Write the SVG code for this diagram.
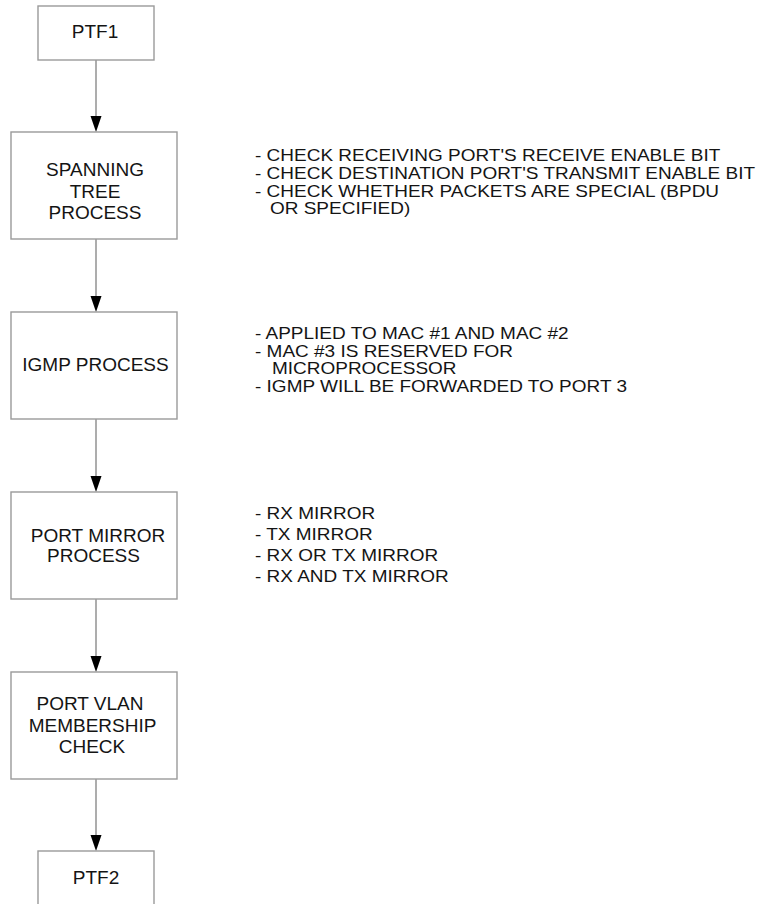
<svg xmlns="http://www.w3.org/2000/svg" width="766" height="904" viewBox="0 0 766 904">
<style>
.box{fill:#fff;stroke:#9a9a9a;stroke-width:1.4}
.t{font-family:"Liberation Sans",Arial,sans-serif;font-size:19px;fill:#141414}
.n{font-family:"Liberation Sans",Arial,sans-serif;font-size:16px;fill:#141414}
.c{text-anchor:middle}
.ln{stroke:#8a8a8a;stroke-width:1.4;fill:none}
.ah{fill:#000}
</style>
<defs>
<polygon id="arr" class="ah" points="-5.5,-16 5.5,-16 0,0"/>
</defs>
<rect width="766" height="904" fill="#fff"/>
<g id="connectors">
<line class="ln" x1="96" y1="60" x2="96" y2="120"/><use href="#arr" x="96" y="132"/>
<line class="ln" x1="96" y1="239" x2="96" y2="300"/><use href="#arr" x="96" y="312"/>
<line class="ln" x1="96" y1="419" x2="96" y2="480"/><use href="#arr" x="96" y="492"/>
<line class="ln" x1="96" y1="599" x2="96" y2="660"/><use href="#arr" x="96" y="672"/>
<line class="ln" x1="96" y1="779" x2="96" y2="839"/><use href="#arr" x="96" y="851"/>
</g>
<g id="ptf1">
<rect class="box" x="38" y="6" width="116" height="54"/>
<text class="t c" x="95" y="38">PTF1</text>
</g>
<g id="spanning">
<rect class="box" x="11" y="132" width="166" height="107"/>
<text class="t c" x="95" y="176">SPANNING</text>
<text class="t c" x="95" y="198">TREE</text>
<text class="t c" x="95" y="219">PROCESS</text>
</g>
<g id="igmp">
<rect class="box" x="11" y="312" width="166" height="107"/>
<text class="t c" x="95.5" y="371">IGMP PROCESS</text>
</g>
<g id="mirror">
<rect class="box" x="11" y="492" width="166" height="107"/>
<text class="t c" x="98" y="542">PORT MIRROR</text>
<text class="t c" x="93.5" y="562">PROCESS</text>
</g>
<g id="vlan">
<rect class="box" x="11" y="672" width="166" height="107"/>
<text class="t c" x="90" y="710">PORT VLAN</text>
<text class="t c" x="92.5" y="732">MEMBERSHIP</text>
<text class="t c" x="92" y="753">CHECK</text>
</g>
<g id="ptf2">
<rect class="box" x="38" y="851" width="116" height="54"/>
<text class="t c" x="96" y="884">PTF2</text>
</g>
<g id="notes-spanning" transform="translate(255 0) scale(1.1875 1)">
<text class="n" x="0" y="161">- CHECK RECEIVING PORT'S RECEIVE ENABLE BIT</text>
<text class="n" x="0" y="179">- CHECK DESTINATION PORT'S TRANSMIT ENABLE BIT</text>
<text class="n" x="0" y="197">- CHECK WHETHER PACKETS ARE SPECIAL (BPDU</text>
<text class="n" x="12.6" y="214">OR SPECIFIED)</text>
</g>
<g id="notes-igmp" transform="translate(255 0) scale(1.1875 1)">
<text class="n" x="0" y="339">- APPLIED TO MAC #1 AND MAC #2</text>
<text class="n" x="0" y="357">- MAC #3 IS RESERVED FOR</text>
<text class="n" x="14.3" y="374">MICROPROCESSOR</text>
<text class="n" x="0" y="392">- IGMP WILL BE FORWARDED TO PORT 3</text>
</g>
<g id="notes-mirror" transform="translate(255 0) scale(1.1875 1)">
<text class="n" x="0" y="519">- RX MIRROR</text>
<text class="n" x="0" y="540">- TX MIRROR</text>
<text class="n" x="0" y="561">- RX OR TX MIRROR</text>
<text class="n" x="0" y="582">- RX AND TX MIRROR</text>
</g>
</svg>
